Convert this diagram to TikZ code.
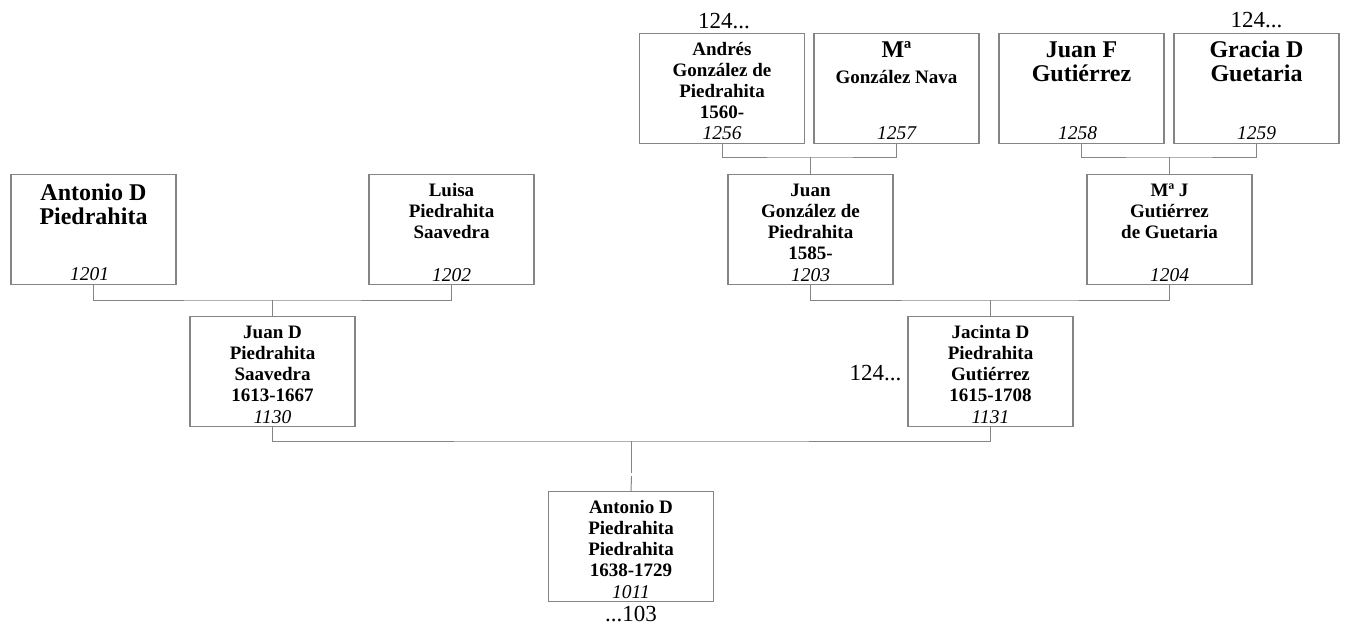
\documentclass[tikz,border=0pt]{standalone}
\usepackage{fontspec}
\setmainfont{Liberation Serif}
\definecolor{linegray}{HTML}{858585}
\begin{document}
\begin{tikzpicture}[x=1pt,y=-1pt,
  pbox/.style={draw=linegray, line width=1.1pt, minimum width=165pt, minimum height=110pt, inner sep=0pt, anchor=north},
  nm/.style={anchor=north, inner sep=0pt, align=center, font=\bfseries\fontsize{19}{21}\selectfont},
  nmbig/.style={anchor=north, inner sep=0pt, align=center, font=\bfseries\fontsize{24}{24.5}\selectfont},
  num/.style={anchor=base, inner sep=0pt, font=\itshape\fontsize{19.5}{21}\selectfont},
  lbl/.style={anchor=base, inner sep=0pt, font=\fontsize{23}{25}\selectfont},
  conn/.style={draw=linegray, line width=1pt}]
\useasboundingbox (0,0) rectangle (1346,626);

% boxes
\node[pbox] (b1256) at (722,33) {};
\node[pbox] (b1257) at (896.5,33) {};
\node[pbox] (b1258) at (1081.5,33) {};
\node[pbox] (b1259) at (1256.5,33) {};
\node[pbox] (b1201) at (93.5,174) {};
\node[pbox] (b1202) at (451.5,174) {};
\node[pbox] (b1203) at (810.5,174) {};
\node[pbox] (b1204) at (1169.5,174) {};
\node[pbox] (b1130) at (272.5,316) {};
\node[pbox] (b1131) at (990.5,316) {};
\node[pbox] (b1011) at (631,491) {};

% names
\node[nm] (t1256) at (b1256.north) {\rule{0pt}{22.5pt}Andrés\\González de\\Piedrahita\\1560-};
\node[nm] (t1257) at (b1257.north) {\rule{0pt}{24pt}{\fontsize{24}{24.5}\selectfont Mª}\\[5.5pt]González Nava};
\node[nmbig] (t1258) at (b1258.north) {\rule{0pt}{24pt}Juan F\\Gutiérrez};
\node[nmbig] (t1259) at (b1259.north) {\rule{0pt}{24pt}Gracia D\\Guetaria};
\node[nmbig] (t1201) at (b1201.north) {\rule{0pt}{26pt}Antonio D\\Piedrahita};
\node[nm] (t1202) at (b1202.north) {\rule{0pt}{22.5pt}Luisa\\Piedrahita\\Saavedra};
\node[nm] (t1203) at (b1203.north) {\rule{0pt}{22.5pt}Juan\\González de\\Piedrahita\\1585-};
\node[nm] (t1204) at (b1204.north) {\rule{0pt}{22.5pt}Mª J\\Gutiérrez\\de Guetaria};
\node[nm] (t1130) at (b1130.north) {\rule{0pt}{22.5pt}Juan D\\Piedrahita\\Saavedra\\1613-1667};
\node[nm] (t1131) at (b1131.north) {\rule{0pt}{22.5pt}Jacinta D\\Piedrahita\\Gutiérrez\\1615-1708};
\node[nm] (t1011) at (b1011.north) {\rule{0pt}{22.5pt}Antonio D\\Piedrahita\\Piedrahita\\1638-1729};

% numbers
\node[num] (n1256) at ([yshift=4.5pt]b1256.south) {1256};
\node[num] (n1257) at ([yshift=4.5pt]b1257.south) {1257};
\node[num] (n1258) at ([xshift=-4pt,yshift=4.5pt]b1258.south) {1258};
\node[num] (n1259) at ([yshift=4.5pt]b1259.south) {1259};
\node[num] (n1201) at ([xshift=-4pt,yshift=5pt]b1201.south) {1201};
\node[num] (n1202) at ([yshift=4pt]b1202.south) {1202};
\node[num] (n1203) at ([yshift=4pt]b1203.south) {1203};
\node[num] (n1204) at ([yshift=4pt]b1204.south) {1204};
\node[num] (n1130) at ([yshift=3.5pt]b1130.south) {1130};
\node[num] (n1131) at ([yshift=3.5pt]b1131.south) {1131};
\node[num] (n1011) at ([yshift=3.5pt]b1011.south) {1011};

% outside labels
\node[lbl] (l1) at (724,28.3) {124...};
\node[lbl] (l2) at (1256.5,27.7) {124...};
\node[lbl] (l3) at (875.5,380.7) {124...};
\node[lbl] (l4) at (631,621.7) {...103};

% junctions
\coordinate (j1a) at (810.5,157);
\coordinate (j1b) at (1169.5,157);
\coordinate (j2a) at (272.5,300);
\coordinate (j2b) at (990.5,300);
\coordinate (j3) at (631.5,441);
\coordinate (g1) at (631.5,473);
\coordinate (g2) at (631.5,476);

% connectors
\draw[conn] (b1256.south) |- (j1a) -| (b1257.south);
\draw[conn] (j1a) -- (b1203.north);
\draw[conn] (b1258.south) |- (j1b) -| (b1259.south);
\draw[conn] (j1b) -- (b1204.north);
\draw[conn] (b1201.south) |- (j2a) -| (b1202.south);
\draw[conn] (j2a) -- (b1130.north);
\draw[conn] (b1203.south) |- (j2b) -| (b1204.south);
\draw[conn] (j2b) -- (b1131.north);
\draw[conn] (b1130.south) |- (j3) -| (b1131.south);
\draw[conn] (j3) -- (g1);
\draw[conn] (g2) -- (b1011.north);
\end{tikzpicture}
\end{document}
